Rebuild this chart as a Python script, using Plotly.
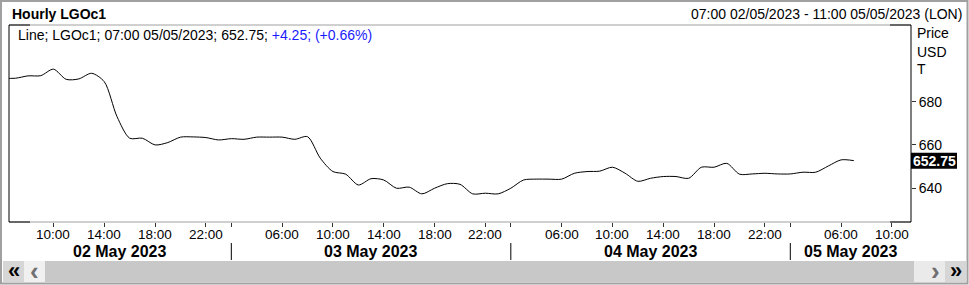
import plotly.graph_objects as go

# ---- data ----
day_labels = ["02 May 2023", "03 May 2023", "04 May 2023", "05 May 2023"]
day_hours = [list(range(6, 24)), list(range(2, 24)), list(range(2, 24)), list(range(2, 12))]

prices_0205 = [690.8, 690.8, 691.9, 692.0, 695.0, 690.3, 690.5, 693.1, 689.2, 673.1,
               663.1, 663.1, 660.0, 661.1, 663.6, 663.7, 663.4, 662.3]
prices_0305 = [662.9, 662.6, 663.6, 663.6, 663.6, 662.6, 663.8, 653.9, 647.7, 646.5,
               641.5, 644.4, 643.8, 640.0, 640.5, 637.4, 640.0, 642.1, 641.8, 637.4,
               637.7, 637.4]
prices_0405 = [640.0, 643.8, 644.2, 644.2, 644.2, 646.9, 647.7, 647.9, 649.7, 646.9,
               643.2, 644.6, 645.4, 645.4, 644.6, 649.7, 649.7, 651.5, 646.5, 646.6,
               646.9, 646.6]
prices_0505 = [646.6, 647.4, 647.4, 650.3, 653.1, 652.75]

y_ticks = [640, 660, 680]
labelled_hours = [6, 10, 14, 18, 22]
last_price = "652.75"

# ---- build slots ----
slots = []  # (day_index, hour)
for d, hours in enumerate(day_hours):
    for h in hours:
        slots.append((d, h))
prices = prices_0205 + prices_0305 + prices_0405 + prices_0505
xs = list(range(len(prices)))

tickvals, ticktext = [], []
day_start = []
for s, (d, h) in enumerate(slots):
    if h == day_hours[d][0] and d > 0:
        day_start.append(s)
        tickvals.append(s); ticktext.append("")
    elif h in labelled_hours:
        tickvals.append(s); ticktext.append(f"{h:02d}:00")

x_lo, x_hi = 0.5, len(slots) - 0.5

W, H = 969, 285
L, R, T, B = 9, 58, 25, 63
PW, PH = W - L - R, H - T - B
def px(X):
    return (X - L) / PW
def py(Y):
    return (H - B - Y) / PH

FONT = "Arial, Liberation Sans, sans-serif"
GRAY = "#a0a0a0"

fig = go.Figure(go.Scatter(
    x=xs, y=prices, mode="lines",
    line=dict(color="black", width=1, shape="spline", smoothing=0.8),
    hoverinfo="skip"))

shapes = []
# plot frame
shapes += [
    dict(type="line", xref="paper", yref="paper", x0=0, x1=1, y0=1, y1=1, line=dict(color=GRAY, width=1)),
    dict(type="line", xref="paper", yref="paper", x0=0, x1=1, y0=0, y1=0, line=dict(color=GRAY, width=1)),
    dict(type="line", xref="paper", yref="paper", x0=0, x1=0, y0=0, y1=1, line=dict(color="black", width=1)),
    dict(type="line", xref="paper", yref="paper", x0=1, x1=1, y0=0, y1=1, line=dict(color="black", width=1)),
    dict(type="line", xref="paper", yref="paper", x0=0, x1=px(30), y0=1, y1=1, line=dict(color="black", width=1)),
    dict(type="line", xref="paper", yref="paper", x0=0, x1=px(30), y0=0, y1=0, line=dict(color="black", width=1)),
    dict(type="line", xref="paper", yref="paper", x0=px(890), x1=1, y0=1, y1=1, line=dict(color="black", width=1)),
    dict(type="line", xref="paper", yref="paper", x0=px(890), x1=1, y0=0, y1=0, line=dict(color="black", width=1)),
]
# day separators
for s in day_start:
    shapes.append(dict(type="line", xref="x", yref="paper", x0=s, x1=s, y0=py(243), y1=py(260),
                       line=dict(color="black", width=1)))
# last price box
shapes.append(dict(type="rect", xref="paper", yref="y", ysizemode="pixel", yanchor=prices[-1],
                   x0=px(911), x1=px(957), y0=-8, y1=8, fillcolor="black", line=dict(width=0)))
# scrollbar
sb0, sb1 = py(261), py(282)
shapes += [
    dict(type="rect", xref="paper", yref="paper", x0=px(3), x1=px(24), y0=sb0, y1=sb1, fillcolor="#d6d6d6", line=dict(width=0)),
    dict(type="rect", xref="paper", yref="paper", x0=px(24), x1=px(45), y0=sb0, y1=sb1, fillcolor="#f0f0f0", line=dict(width=0)),
    dict(type="rect", xref="paper", yref="paper", x0=px(45), x1=px(914), y0=sb0, y1=sb1, fillcolor="#c8c8c8", line=dict(width=0)),
    dict(type="rect", xref="paper", yref="paper", x0=px(914), x1=px(945), y0=sb0, y1=sb1, fillcolor="#eaeaea", line=dict(width=0)),
    dict(type="rect", xref="paper", yref="paper", x0=px(945), x1=px(966), y0=sb0, y1=sb1, fillcolor="#d6d6d6", line=dict(width=0)),
]
# outer border
shapes.append(dict(type="rect", xref="paper", yref="paper", x0=px(1), x1=px(967.5), y0=py(1), y1=py(283.5),
                   line=dict(color=GRAY, width=2), fillcolor="rgba(0,0,0,0)"))

ann = []
ann.append(dict(text="<b>Hourly LGOc1</b>", xref="paper", yref="paper", x=px(10), y=py(14),
                xanchor="left", yanchor="middle", showarrow=False, font=dict(size=14, color="black", family=FONT)))
ann.append(dict(text="07:00 02/05/2023 - 11:00 05/05/2023 (LON)", xref="paper", yref="paper", x=px(964), y=py(14),
                xanchor="right", yanchor="middle", showarrow=False, font=dict(size=14, color="black", family=FONT)))
ann.append(dict(text="Line; LGOc1; 07:00 05/05/2023; 652.75; <span style='color:#1a1aff'>+4.25; (+0.66%)</span>",
                xref="paper", yref="paper", x=px(16), y=py(35), xanchor="left", yanchor="middle",
                showarrow=False, font=dict(size=14, color="black", family=FONT)))
for txt, yy in [("Price", 33.5), ("USD", 51.5), ("T", 69)]:
    ann.append(dict(text=txt, xref="paper", yref="paper", x=px(915), y=py(yy), xanchor="left", yanchor="middle",
                    showarrow=False, font=dict(size=14, color="black", family=FONT)))
ann.append(dict(text=f"<b>{last_price}</b>", xref="paper", yref="y", x=px(910.5), y=prices[-1],
                xanchor="left", yanchor="middle", showarrow=False, font=dict(size=14, color="white", family=FONT)))
# hour tick labels (drawn as text at the axis ticks)
for tv, tt in zip(tickvals, ticktext):
    if tt:
        ann.append(dict(text=tt, xref="x", yref="paper", x=tv, y=py(234), xanchor="center", yanchor="middle",
                        showarrow=False, font=dict(size=13.5, color="black", family=FONT)))
# day labels
bounds = [x_lo] + day_start + [x_hi]
for i, lab in enumerate(day_labels):
    ann.append(dict(text=f"<b>{lab}</b>", xref="x", yref="paper", x=(bounds[i] + bounds[i + 1]) / 2, y=py(251.5),
                    xanchor="center", yanchor="middle", showarrow=False, font=dict(size=16, color="black", family=FONT)))
# scrollbar glyphs
for txt, xx, col, sz in [("<b>«</b>", 13.5, "black", 22), ("<b>‹</b>", 34.5, "#707070", 26),
                         ("<b>›</b>", 935, "#707070", 26), ("<b>»</b>", 955.5, "black", 22)]:
    ann.append(dict(text=txt, xref="paper", yref="paper", x=px(xx), y=py(270.5), xanchor="center", yanchor="middle",
                    showarrow=False, font=dict(size=sz, color=col, family=FONT)))

fig.update_layout(
    width=W, height=H, margin=dict(l=L, r=R, t=T, b=B, pad=0),
    paper_bgcolor="white", plot_bgcolor="white", showlegend=False,
    shapes=shapes, annotations=ann,
    xaxis=dict(range=[x_lo, x_hi], tickmode="array", tickvals=tickvals, showticklabels=False,
               ticks="outside", ticklen=4, tickwidth=1, tickcolor="#333333", showgrid=False,
               showline=False, zeroline=False),
    yaxis=dict(range=[624.4, 715.4], side="right", tickmode="array", tickvals=y_ticks,
               ticks="outside", ticklen=4, tickwidth=1, tickcolor="#333333", showgrid=False,
               showline=False, zeroline=False, tickfont=dict(size=14, color="black", family=FONT)),
)

fig.write_html("out.html")
